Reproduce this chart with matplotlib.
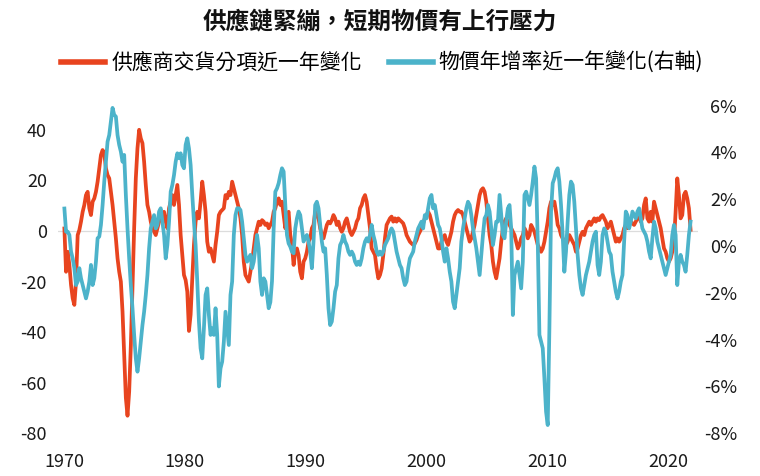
import numpy as np
import matplotlib
matplotlib.use('Agg')
import matplotlib.pyplot as plt
from matplotlib.lines import Line2D
from matplotlib.ticker import PercentFormatter

plt.rcParams['font.family'] = ['Noto Sans CJK TC', 'DejaVu Sans']
plt.rcParams['axes.unicode_minus'] = False

title = '供應鏈緊繃，短期物價有上行壓力'
label_supplier = '供應商交貨分項近一年變化'
label_cpi = '物價年增率近一年變化(右軸)'

# sampling grid of the series (start year, spacing in years)
start_year = 1970.03
step_years = 1.65 / 12

# supplier deliveries index, change over one year (left axis)
supplier_change = [
    1.0, -16.1, -8.2, -13.4, -21.3, -26.6, -29.2, -20.0, -1.6, 0.4,
    3.7, 7.6, 10.3, 14.2, 15.5, 9.0, 6.3, 11.6, 12.9, 15.5,
    19.5, 24.8, 30.0, 32.0, 30.7, 24.8, 22.1, 20.8, 15.5, 10.3,
    3.7, -2.9, -10.8, -16.1, -20.0, -31.9, -48.7, -65.9, -73.0, -63.5,
    -45.4, -22.7, 1.1, 20.8, 32.7, 40.0, 36.6, 34.7, 27.4, 18.2,
    10.3, 7.6, 3.7, 1.1, -0.3, -1.6, 1.1, 3.7, 4.3, 5.0,
    # 1978-1987
    7.6, 3.7, 1.1, 9.0, 11.6, 14.2, 10.3, 14.2, 18.2, 10.3,
    -1.6, -9.5, -17.4, -19.4, -24.0, -39.5, -33.0, -18.7, -5.5, 3.7,
    7.6, 5.0, 11.6, 19.5, 14.2, 7.6, -4.2, -8.2, -6.9, -9.5,
    -12.1, -5.5, -0.3, 6.3, 7.6, 8.3, 9.0, 14.2, 12.9, 15.5,
    14.2, 19.5, 16.9, 14.2, 11.6, 9.0, 5.0, -1.6, -12.1, -17.4,
    -18.7, -20.0, -16.1, -12.1, -6.9, -1.6, 1.1, 3.7, 2.4, 4.3,
    3.7, 2.4, 3.0, 1.1, 2.4,
    # 1987-1996
    3.7, 7.6, 9.0, 11.6, 12.9, 10.3, 11.6, 6.3, 1.1, 6.3,
    7.6, -1.6, -5.5, -13.4, -8.2, -6.9, -9.5, -16.1, -18.7, -12.1,
    -10.8, -8.2, -4.2, -2.9, 1.1, 2.4, 7.6, 6.3, 5.0, 1.1,
    -1.6, -2.9, -0.3, 2.4, 3.7, 3.0, 4.3, 6.3, 5.0, 2.4,
    3.7, 1.1, -0.3, 1.1, 3.7, 5.0, 2.4, -0.3, -1.6, -0.3,
    1.1, 3.7, 5.0, 9.0, 10.3, 12.9, 14.2, 11.6, 6.3, 1.1,
    -6.9, -8.2, -9.5, -14.8, -18.7,
    # 1996-2005
    -17.4, -14.8, -9.5, -2.9, 2.4, 3.7, 5.0, 5.7, 3.7, 5.0,
    3.7, 5.0, 4.3, 3.7, 3.0, 1.1, -1.6, -2.9, -4.2, -4.9,
    -5.5, -4.9, -3.6, -1.6, -0.3, 1.1, 3.0, 5.0, 6.3, 7.6,
    6.3, 3.7, 1.1, -1.6, -4.2, -6.9, -6.9, -4.2, -2.9, -1.6,
    -4.2, -5.5, -2.9, -0.3, 3.7, 6.3, 7.6, 8.3, 7.6, 7.6,
    6.3, 3.7, 1.1, -1.6, -4.2, -2.9, -0.3, 2.4, 6.3, 10.3,
    14.2, 16.2, 16.9, 15.5, 11.6,
    # 2005-2014
    5.0, -1.6, -5.5, -12.1, -16.1, -18.7, -14.8, -10.8, -4.2, 1.1,
    3.7, 5.0, 3.7, 2.4, 1.1, -0.3, -1.6, -4.2, -6.9, -5.5,
    -2.9, -1.6, 1.1, -0.3, -2.9, -1.6, 2.4, 1.1, -0.3, -2.9,
    -5.5, -6.9, -8.2, -6.9, -4.2, -0.3, 3.7, 9.0, 11.6, 10.3,
    11.6, 7.6, 2.4, 1.1, -1.6, -2.9, -4.2, -5.5, -4.2, -1.6,
    -2.9, -4.2, -5.5, -8.2, -6.9, -4.2, -1.6, -0.3, -1.6, 1.1,
    2.4, 3.7, 2.4, 3.7, 5.0,
    # 2014-2021
    3.7, 5.0, 4.3, 5.7, 6.3, 5.0, 3.7, 1.1, 2.4, 3.7,
    1.1, -1.6, -4.2, -2.9, -4.2, -2.9, -1.6, 1.1, 2.4, 1.1,
    2.4, 3.7, 3.0, 2.4, 3.7, 5.0, 6.3, 3.7, 5.0, 10.3,
    12.9, 5.0, 3.7, 7.6, 3.7, 11.6, 9.0, 6.3, 3.7, 1.1,
    -2.9, -6.9, -8.2, -10.8, -12.1, -10.8, -8.2, -4.2, 7.6, 20.8,
    14.2, 5.0, 6.3, 14.2, 15.5, 12.9, 9.0, 0.5,
]

# CPI yoy growth, change over one year, in % (right axis)
cpi_change = [
    1.6, 0.61, 0.61, 0.47, -0.24, -0.53, -0.95, -1.67, -1.52, -0.95,
    -1.38, -1.67, -1.95, -2.24, -1.95, -1.52, -0.81, -1.67, -1.38, -0.67,
    0.33, 0.40, 0.90, 1.75, 2.75, 3.60, 4.46, 4.74, 5.31, 5.90,
    5.60, 5.53, 4.74, 4.32, 4.03, 3.60, 3.89, 2.18, 0.75, -0.53,
    -1.67, -2.66, -3.80, -4.80, -5.37, -4.80, -4.09, -3.38, -2.81, -2.09,
    -1.24, -0.10, 0.75, 1.04, 1.32, 0.75, 0.90, 1.47, 1.61, 1.04,
    # 1978-1987
    0.47, -0.53, 0.04, 1.04, 2.32, 2.61, 3.03, 3.60, 3.96, 3.75,
    3.96, 3.46, 3.32, 4.32, 4.60, 4.17, 3.46, 2.18, 1.04, 0.04,
    -1.52, -3.23, -4.37, -4.80, -3.52, -2.09, -1.81, -2.95, -3.80, -3.52,
    -3.80, -2.66, -3.80, -6.00, -5.23, -4.94, -4.09, -2.81, -3.52, -4.23,
    -2.09, -1.52, 0.47, 1.32, 1.61, 1.61, 1.54, 1.04, 0.33, -0.38,
    -0.67, -0.53, -0.38, -0.95, -0.67, -0.10, 0.47, -0.10, -1.52, -2.09,
    -1.38, -1.52, -2.09, -2.66, -2.40,
    # 1987-1996
    -1.50, 0.75, 2.32, 2.46, 2.68, 3.03, 3.32, 3.18, 1.75, 0.47,
    0.11, -0.03, -0.24, -0.31, 0.75, 1.18, 1.47, 1.32, 0.75, 0.19,
    0.33, 0.47, 0.19, -0.24, -0.95, 0.19, 1.75, 1.89, 1.61, 0.90,
    0.19, -0.24, -0.10, -1.24, -2.66, -3.38, -3.23, -2.66, -1.95, -1.67,
    -0.53, 0.04, 0.19, 0.47, 0.19, 0.04, -0.24, -0.38, -0.24, -0.38,
    -0.67, -0.81, -0.67, -0.81, -0.53, -0.10, 0.19, 0.33, 0.19, 0.47,
    0.90, 0.47, 0.19, -0.24, -0.38,
    # 1996-2005
    -0.24, -0.38, -0.24, 0.04, 0.19, 0.33, 0.61, 0.75, 0.61, 0.19,
    -0.24, -0.53, -0.81, -0.95, -1.38, -1.67, -1.52, -0.95, -0.53, -0.38,
    -0.24, 0.19, 0.47, 0.75, 0.90, 1.04, 0.75, 1.32, 1.18, 1.61,
    2.04, 2.18, 1.61, 1.75, 1.32, 0.90, 0.75, 0.33, -0.24, -0.67,
    -0.10, -0.53, -1.10, -1.52, -2.38, -2.66, -2.09, -1.52, -0.95, 0.19,
    0.75, 1.18, 1.61, 1.89, 1.75, 1.32, 0.75, 0.33, -0.10, -0.67,
    -1.24, -0.38, 0.47, 1.18, 1.32,
    # 2005-2014
    1.75, 1.47, 0.75, 0.04, 0.47, 1.04, 1.04, 2.18, 1.32, 0.47,
    0.33, 1.04, 1.61, 1.75, 0.75, -2.95, -1.24, -0.95, -0.67, -1.24,
    -1.81, -0.67, 2.18, 2.32, 2.04, 1.75, 2.18, 2.75, 3.39, 2.89,
    0.19, -3.80, -4.09, -4.37, -5.66, -7.08, -7.65, -3.52, 1.47, 2.68,
    2.89, 3.18, 3.32, 2.75, 1.75, 0.47, -1.10, -0.24, 1.04, 2.18,
    2.75, 2.61, 1.89, 0.75, -0.38, -1.24, -1.81, -2.09, -1.67, -1.24,
    -0.95, -0.67, -0.24, 0.19, 0.47,
    # 2014-2021
    0.61, -0.81, -1.24, -0.67, 0.47, 0.75, 0.61, 0.19, -0.24, -0.38,
    -1.10, -1.52, -1.95, -2.24, -1.95, -1.52, -1.24, 0.19, 1.47, 1.32,
    0.75, 1.04, 1.47, 1.32, 1.18, 1.47, 1.61, 1.18, 0.75, 0.61,
    0.47, 0.19, -0.24, -0.53, 0.33, 1.04, 0.75, 0.19, -0.10, -0.38,
    -0.67, -0.95, -1.24, -0.95, -0.67, -0.38, 0.47, 0.90, 0.47, -1.67,
    -0.67, -0.38, -0.67, -0.81, -1.10, -0.38, 0.47, 1.04,
]

year_ticks = [1970, 1980, 1990, 2000, 2010, 2020]
left_ticks = [-80, -60, -40, -20, 0, 20, 40]
right_ticks = [-8, -6, -4, -2, 0, 2, 4, 6]

red = '#E8441F'
teal = '#4CB3CA'

years = start_year + np.arange(len(supplier_change)) * step_years

fig = plt.figure(figsize=(7.6, 4.76), dpi=100)
ax = fig.add_axes([0.0763, 0.0756, 0.8424, 0.7248])

ax.axhline(0, color='#dcdcdc', lw=0.9, zorder=0)
ax.plot(years, supplier_change, color=red, lw=2.7, solid_joinstyle='round')
ax.set_xlim(1969.5, 2022.5)
ax.set_ylim(-82.6, 53.75)
ax.set_yticks(left_ticks)
ax.set_xticks(year_ticks)

ax2 = ax.twinx()
ax2.plot(years, cpi_change, color=teal, lw=2.7, solid_joinstyle='round')
ax2.set_ylim(-8.29, 6.45)
ax2.set_yticks(right_ticks)
ax2.yaxis.set_major_formatter(PercentFormatter(decimals=0))

for a in (ax, ax2):
    for s in a.spines.values():
        s.set_visible(False)
    a.tick_params(length=0, labelsize=13, colors='#1a1a1a')
ax.tick_params(axis='y', pad=8)
ax.tick_params(axis='x', pad=9)
ax2.tick_params(axis='y', pad=28)
for lbl in ax2.get_yticklabels():
    lbl.set_horizontalalignment('right')

fig.text(0.5, 0.954, title, ha='center', va='center', fontsize=17,
         fontweight='bold', color='#111111')

handles = [Line2D([0], [0], color=red, lw=4), Line2D([0], [0], color=teal, lw=4)]
fig.legend(handles, [label_supplier, label_cpi], loc='center', bbox_to_anchor=(0.503, 0.868),
           ncol=2, frameon=False, fontsize=15, handlelength=2.1, handletextpad=0.3,
           columnspacing=1.3)

fig.savefig('out.png', dpi=100)
